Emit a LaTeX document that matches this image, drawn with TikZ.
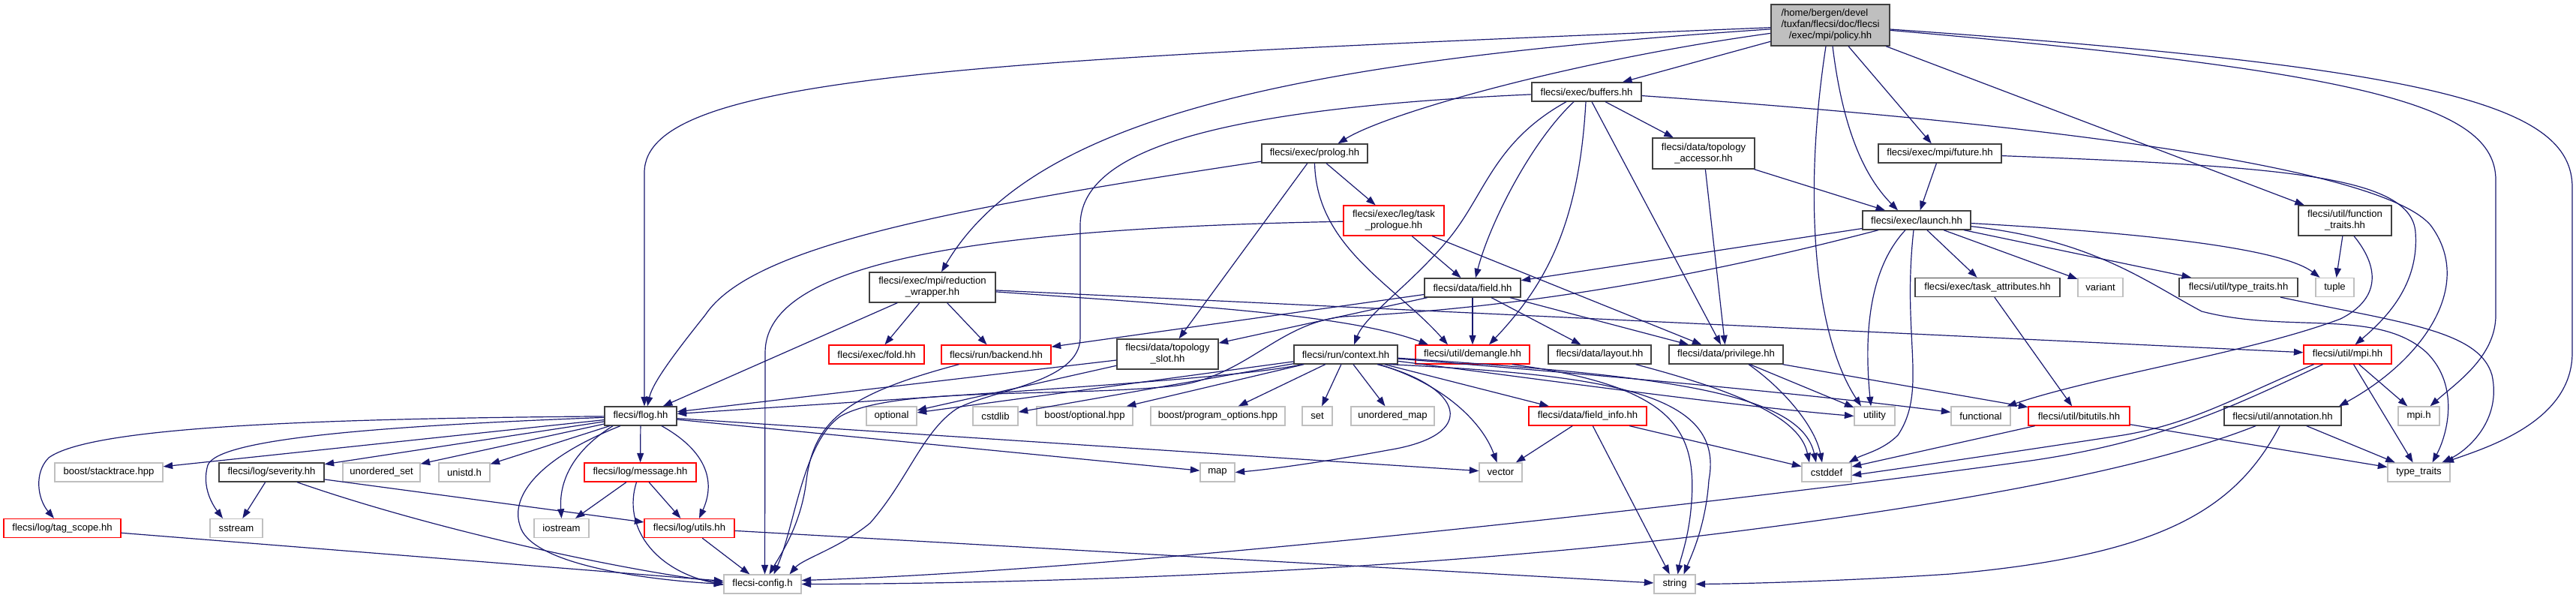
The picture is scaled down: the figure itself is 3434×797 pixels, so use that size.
\documentclass[tikz,border=0pt]{standalone}
\usepackage{fontspec}
\setmainfont{Liberation Sans}
\usetikzlibrary{arrows.meta}
\definecolor{edgec}{HTML}{191970}
\definecolor{blkc}{HTML}{404040}
\definecolor{redc}{HTML}{FF0000}
\definecolor{gryc}{HTML}{BFBFBF}
\definecolor{polfill}{HTML}{BFBFBF}
\newsavebox{\polbox}
\begin{document}
\begin{tikzpicture}[x=1pt,y=-1pt,
  nd/.style={rectangle, inner sep=0pt, minimum height=25pt, align=center, line width=1.3pt, fill=white, font=\fontsize{13.1pt}{15pt}\selectfont},
  bk/.style={nd, draw=blkc},
  rd/.style={nd, draw=redc},
  gy/.style={nd, draw=gryc},
  e/.style={draw=edgec, line width=1.2pt, -{Triangle[length=12.5pt,width=9pt]}}
]
\fill[white] (0,0) rectangle (3434,797);
\useasboundingbox (0,0) rectangle (3434,797);

% ---------------- nodes ----------------
\node[bk, fill=polfill, minimum width=158pt, minimum height=55pt] (policy) at (2440,33.5) {\sbox{\polbox}{/tuxfan/flecsi/doc/flecsi}\makebox[\wd\polbox][l]{/home/bergen/devel}\\/tuxfan/flecsi/doc/flecsi\\/exec/mpi/policy.hh};
\node[bk, minimum width=146pt] (buffers) at (2115,122.5) {flecsi/exec/buffers.hh};
\node[bk, minimum width=141pt] (prolog) at (1752.5,204.5) {flecsi/exec/prolog.hh};
\node[bk, minimum width=136pt, minimum height=41pt] (tacc) at (2271,204.5) {flecsi/data/topology\\\_accessor.hh};
\node[bk, minimum width=164pt] (future) at (2586,204.5) {flecsi/exec/mpi/future.hh};
\node[rd, minimum width=134pt, minimum height=40pt] (tprol) at (1858,294) {flecsi/exec/leg/task\\\_prologue.hh};
\node[bk, minimum width=144pt] (launch) at (2555,293.5) {flecsi/exec/launch.hh};
\node[bk, minimum width=124pt, minimum height=40pt] (ftraits) at (3126,294) {flecsi/util/function\\\_traits.hh};
\node[bk, minimum width=168pt, minimum height=40pt] (redw) at (1243,383) {flecsi/exec/mpi/reduction\\\_wrapper.hh};
\node[bk, minimum width=128pt] (field) at (1963,383.5) {flecsi/data/field.hh};
\node[bk, minimum width=193pt] (tattr) at (2649.5,383) {flecsi/exec/task\_attributes.hh};
\node[gy, minimum width=60pt] (variant) at (2800,383) {variant};
\node[bk, minimum width=158pt] (uttraits) at (2984,383) {flecsi/util/type\_traits.hh};
\node[gy, minimum width=51pt] (tuple) at (3112.5,383) {tuple};
\node[rd, minimum width=127pt] (fold) at (1168.5,472.5) {flecsi/exec/fold.hh};
\node[rd, minimum width=146pt] (backend) at (1328,472.5) {flecsi/run/backend.hh};
\node[bk, minimum width=135pt, minimum height=40pt] (tslot) at (1556.5,472) {flecsi/data/topology\\\_slot.hh};
\node[bk, minimum width=138pt] (context) at (1794,472.5) {flecsi/run/context.hh};
\node[rd, minimum width=152pt] (demangle) at (1963,472.5) {flecsi/util/demangle.hh};
\node[bk, minimum width=137pt] (layout) at (2132.5,472.5) {flecsi/data/layout.hh};
\node[bk, minimum width=152pt] (privilege) at (2301,472.5) {flecsi/data/privilege.hh};
\node[rd, minimum width=117pt] (umpi) at (3129.5,472.5) {flecsi/util/mpi.hh};
\node[bk, minimum width=96pt] (flog) at (854,554.5) {flecsi/flog.hh};
\node[gy, minimum width=67pt] (optional) at (1188.5,554.5) {optional};
\node[gy, minimum width=60pt] (cstdlib) at (1327,554.5) {cstdlib};
\node[gy, minimum width=128pt] (boostopt) at (1446,554.5) {boost/optional.hpp};
\node[gy, minimum width=179pt] (progopt) at (1623.5,554.5) {boost/program\_options.hpp};
\node[gy, minimum width=40pt] (set) at (1756,554.5) {set};
\node[gy, minimum width=111pt] (umap) at (1856.5,554.5) {unordered\_map};
\node[rd, minimum width=157pt] (finfo) at (2116.5,554.5) {flecsi/data/field\_info.hh};
\node[gy, minimum width=54pt] (utility) at (2499,554.5) {utility};
\node[gy, minimum width=79pt] (functional) at (2640.5,554.5) {functional};
\node[rd, minimum width=135pt] (bitutils) at (2771.5,554.5) {flecsi/util/bitutils.hh};
\node[bk, minimum width=156pt] (annotation) at (3043,554.5) {flecsi/util/annotation.hh};
\node[gy, minimum width=55pt] (mpih) at (3224.5,554.5) {mpi.h};
\node[gy, minimum width=144pt] (stacktrace) at (145,629.5) {boost/stacktrace.hpp};
\node[bk, minimum width=140pt] (severity) at (362,629.5) {flecsi/log/severity.hh};
\node[gy, minimum width=103pt] (uset) at (508.5,629.5) {unordered\_set};
\node[gy, minimum width=68pt] (unistd) at (619,629.5) {unistd.h};
\node[rd, minimum width=149pt] (message) at (853.5,629.5) {flecsi/log/message.hh};
\node[gy, minimum width=46pt] (map) at (1623,629.5) {map};
\node[gy, minimum width=57pt] (vector) at (2000.5,629.5) {vector};
\node[gy, minimum width=66pt] (cstddef) at (2435,629.5) {cstddef};
\node[gy, minimum width=83pt] (typetraits) at (3224.5,629.5) {type\_traits};
\node[rd, minimum width=156pt] (tagscope) at (83,704) {flecsi/log/tag\_scope.hh};
\node[gy, minimum width=70pt] (sstream) at (315,704) {sstream};
\node[gy, minimum width=73pt] (iostream) at (748.5,704) {iostream};
\node[rd, minimum width=120pt] (logutils) at (919,704) {flecsi/log/utils.hh};
\node[gy, minimum width=103pt] (config) at (1016.5,778.5) {flecsi-config.h};
\node[gy, minimum width=55pt] (string) at (2232.5,778.5) {string};

% ---------------- edges ----------------
% policy
\draw[e] (policy) .. controls (1300,80) and (859,100) .. (859,230) -- ([xshift=5pt]flog.north);
\draw[e] (policy) .. controls (1750,80) and (1380,150) .. ([xshift=12pt]redw.north);
\draw[e] (policy) .. controls (2100,80) and (1850,150) .. ([xshift=31pt]prolog.north);
\draw[e] (policy) -- (buffers);
\draw[e] ([xshift=3pt]policy.south) .. controls (2455,160) and (2480,230) .. ([xshift=-25pt]launch.north);
\draw[e] (policy) -- (future);
\draw[e] (policy) -- (ftraits);
\draw[e] ([xshift=-6pt]policy.south) .. controls (2405,250) and (2415,440) .. ([xshift=-18pt]utility.north);
\draw[e] (policy) .. controls (3150,95) and (3327,140) .. (3327,240) -- (3327,420) .. controls (3327,475) and (3275,510) .. ([xshift=15pt]mpih.north);
\draw[e] (policy) .. controls (3250,90) and (3429,140) .. (3429,250) -- (3429,470) .. controls (3429,560) and (3320,595) .. ([xshift=34pt]typetraits.north);
% buffers
\draw[e] (buffers) .. controls (1620,145) and (1440,200) .. (1440,300) -- (1440,450) .. controls (1440,510) and (1320,520) .. (1275,545) .. controls (1230,575) and (1210,640) .. (1160,697) .. controls (1120,730) and (1070,745) .. ([xshift=36pt]config.north);
\draw[e] (buffers) .. controls (2800,170) and (3180,230) .. (3240,300) .. controls (3300,380) and (3230,480) .. ([xshift=75pt]annotation.north);
\draw[e] ([xshift=-27pt]buffers.south) .. controls (1990,190) and (1980,260) .. (1930,320) .. controls (1880,380) and (1820,420) .. ([xshift=11pt]context.north);
\draw[e] ([xshift=-17pt]buffers.south) .. controls (2040,190) and (1985,300) .. ([xshift=4pt]field.north);
\draw[e] ([xshift=-1pt]buffers.south) .. controls (2105,300) and (2060,380) .. ([xshift=22pt]demangle.north);
\draw[e] (buffers) -- (privilege);
\draw[e] (buffers) -- (tacc);
% prolog
\draw[e] (prolog) .. controls (1250,280) and (1000,330) .. (940,420) .. controls (900,470) and (870,510) .. ([xshift=9pt]flog.north);
\draw[e] (prolog) -- (tslot);
\draw[e] (prolog.south) .. controls (1755,330) and (1860,380) .. ([xshift=-33pt]demangle.north);
\draw[e] (prolog) -- (tprol);
% topology accessor, future
\draw[e] (tacc) -- (launch);
\draw[e] (tacc) -- (privilege);
\draw[e] (future) -- (launch);
\draw[e] (future) .. controls (3050,222) and (3215,235) .. (3220,310) .. controls (3225,380) and (3180,425) .. ([xshift=10pt]umpi.north);
% task prologue
\draw[e] (tprol) -- (field);
\draw[e] (tprol) -- (privilege);
\draw[e] (tprol) .. controls (1250,305) and (1020,360) .. (1020,470) -- ([xshift=3pt]config.north);
% launch
\draw[e] (launch) -- (field);
\draw[e] ([xshift=-51pt]launch.south) .. controls (2300,360) and (2050,410) .. (1790,422) .. controls (1700,432) and (1660,505) .. (1560,515) .. controls (1400,530) and (1190,515) .. (1120,555) .. controls (1070,590) and (1060,700) .. ([xshift=15pt]config.north);
\draw[e] ([xshift=-15pt]launch.south) .. controls (2490,360) and (2485,450) .. ([xshift=-5pt]utility.north);
\draw[e] ([xshift=-4pt]launch.south) .. controls (2535,450) and (2570,520) .. (2530,580) .. controls (2510,600) and (2485,605) .. ([xshift=-4pt]cstddef.north east);
\draw[e] (launch) -- (tattr);
\draw[e] (launch) -- (variant);
\draw[e] (launch) -- (uttraits);
\draw[e] (launch) .. controls (2850,310) and (3040,330) .. ([xshift=-20pt]tuple.north);
\draw[e] (launch) .. controls (2790,320) and (2860,375) .. (2935,415) .. controls (3050,445) and (3170,410) .. (3235,470) .. controls (3280,515) and (3262,580) .. ([xshift=18pt]typetraits.north);
% field
\draw[e] (field) -- (demangle);
\draw[e] (field) -- (layout);
\draw[e] (field) -- (privilege);
\draw[e] (field) -- (tslot);
\draw[e] (field) -- (backend);
% reduction wrapper
\draw[e] (redw) -- (flog);
\draw[e] (redw) -- (fold);
\draw[e] (redw) -- (backend);
\draw[e] (redw) .. controls (1600,408) and (1800,420) .. ([xshift=-59pt]demangle.north);
\draw[e] (redw) -- (umpi);
% backend
\draw[e] (backend) .. controls (1130,525) and (1085,560) .. (1075,640) .. controls (1068,700) and (1040,740) .. ([xshift=9pt]config.north);
% topology slot
\draw[e] (tslot) -- (flog);
\draw[e] (tslot) -- (optional);
% context
\draw[e] (context) .. controls (1650,505) and (1300,525) .. ([yshift=3pt]flog.east);
\draw[e] (context) -- (optional);
\draw[e] (context) -- (cstdlib);
\draw[e] (context) -- (boostopt);
\draw[e] (context) -- (progopt);
\draw[e] (context) -- (set);
\draw[e] (context) -- (umap);
\draw[e] ([xshift=42pt]context.south) .. controls (1950,515) and (1975,580) .. (1850,600) .. controls (1780,613) and (1700,625) .. (map.east);
\draw[e] ([xshift=44pt]context.south) .. controls (1920,510) and (1975,560) .. ([xshift=-5pt]vector.north);
\draw[e] (context) -- (finfo);
\draw[e] ([xshift=58pt]context.south) .. controls (2150,500) and (2300,525) .. (2278,640) .. controls (2274,700) and (2255,740) .. ([xshift=12pt]string.north);
\draw[e] (context) .. controls (2050,505) and (2300,540) .. (utility.west);
\draw[e] (context) .. controls (2200,505) and (2450,530) .. (functional);
\draw[e] (context) .. controls (2200,500) and (2400,520) .. ([xshift=-14pt]cstddef.north);
% demangle, layout, privilege, task attributes
\draw[e] ([xshift=53pt]demangle.south) .. controls (2230,515) and (2265,570) .. (2254,680) .. controls (2250,720) and (2240,745) .. ([xshift=4pt]string.north);
\draw[e] ([xshift=48pt]layout.south) .. controls (2330,525) and (2400,560) .. ([xshift=-23pt]cstddef.north);
\draw[e] (privilege) -- (utility);
\draw[e] ([xshift=30pt]privilege.south) .. controls (2380,520) and (2420,570) .. ([xshift=-6pt]cstddef.north);
\draw[e] (privilege) -- (bitutils);
\draw[e] (tattr) -- (bitutils);
% function traits, util type traits
\draw[e] (ftraits) -- (tuple);
\draw[e] ([xshift=12pt]ftraits.south) .. controls (3175,360) and (3170,400) .. (3120,425) .. controls (3000,470) and (2800,500) .. ([xshift=35pt]functional.north);
\draw[e] ([xshift=56pt]uttraits.south) .. controls (3200,430) and (3305,440) .. (3322,500) .. controls (3335,560) and (3290,600) .. ([xshift=31pt]typetraits.north);
% util mpi
\draw[e] (umpi) -- (mpih);
\draw[e] (umpi) -- (typetraits);
\draw[e] ([xshift=-45pt]umpi.south) .. controls (2980,530) and (2920,565) .. (2830,580) .. controls (2700,600) and (2550,622) .. ([yshift=-4pt]cstddef.east);
\draw[e] ([xshift=-33pt]umpi.south) .. controls (2980,540) and (2880,590) .. (2700,615) .. controls (2300,670) and (1500,760) .. ([yshift=5pt]config.east);
% annotation
\draw[e] (annotation) -- (typetraits);
\draw[e] ([xshift=-36pt]annotation.south) .. controls (2900,610) and (2700,660) .. (2300,710) .. controls (1900,760) and (1400,778) .. (config.east);
\draw[e] ([xshift=-4pt]annotation.south) .. controls (2980,680) and (2880,740) .. (2600,765) .. controls (2450,775) and (2320,778) .. (string.east);
% bitutils
\draw[e] (bitutils) -- (cstddef);
\draw[e] (bitutils) -- (typetraits);
% field info
\draw[e] (finfo) -- (vector);
\draw[e] (finfo) -- (string);
\draw[e] (finfo) -- (cstddef);
% flog
\draw[e] (flog) .. controls (400,558) and (120,570) .. (65,610) .. controls (45,630) and (50,665) .. ([xshift=-11pt]tagscope.north);
\draw[e] (flog) -- (stacktrace);
\draw[e] (flog) .. controls (500,568) and (290,585) .. (277,620) .. controls (268,650) and (285,675) .. ([xshift=-18pt]sstream.north);
\draw[e] (flog) -- (severity);
\draw[e] (flog) -- (uset);
\draw[e] (flog) -- (unistd);
\draw[e] ([xshift=-37pt]flog.south) .. controls (765,600) and (745,640) .. (iostream.north);
\draw[e] (flog) -- (message);
\draw[e] ([xshift=28pt]flog.south) .. controls (940,600) and (955,640) .. ([xshift=13pt]logutils.north);
\draw[e] ([xshift=-27pt]flog.south) .. controls (720,610) and (680,660) .. (693,700) .. controls (705,750) and (850,772) .. (config.west);
\draw[e] (flog) -- (map);
\draw[e] (flog) -- (vector);
% message
\draw[e] (message) -- (iostream);
\draw[e] (message) -- (logutils);
\draw[e] ([xshift=-5pt]message.south) .. controls (830,700) and (870,760) .. ([yshift=-1pt]config.west);
% log utils, severity, tag scope
\draw[e] (logutils) -- (config);
\draw[e] (logutils) -- (string);
\draw[e] (severity) -- (sstream);
\draw[e] (severity) -- (logutils);
\draw[e] ([xshift=34pt]severity.south) .. controls (560,700) and (800,755) .. ([yshift=2pt]config.west);
\draw[e] (tagscope) -- (config);
\end{tikzpicture}
\end{document}
